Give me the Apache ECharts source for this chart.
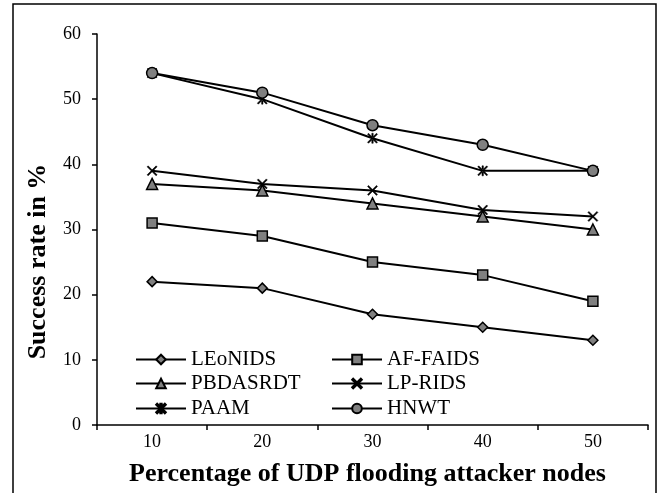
<!DOCTYPE html>
<html>
<head>
<meta charset="utf-8">
<script src="https://cdn.jsdelivr.net/npm/echarts@6/dist/echarts.min.js"></script>
<style>
  html, body { margin: 0; padding: 0; background: #fff; }
  #chart { width: 660px; height: 493px; }
</style>
</head>
<body>
<div id="chart"></div>
<script>
(function () {
  "use strict";

  // Data
  const categories = ['10', '20', '30', '40', '50'];
  const leonids = [22, 21, 17, 15, 13];
  const afFaids = [31, 29, 25, 23, 19];
  const pbdasrdt = [37, 36, 34, 32, 30];
  const lpRids = [39, 37, 36, 33, 32];
  const paam = [54, 50, 44, 39, 39];
  const hnwt = [54, 51, 46, 43, 39];

  const FONT = '"Liberation Serif", "Times New Roman", serif';
  const GRAY = '#808080';

  const crossPath = 'path://M1,0 L5,4 L9,0 L10,1 L6,5 L10,9 L9,10 L5,6 L1,10 L0,9 L4,5 L0,1 Z';
  const starPath = 'path://M1,0 L5,4 L9,0 L10,1 L6,5 L10,9 L9,10 L5,6 L1,10 L0,9 L4,5 L0,1 Z M4.3,0 L4.3,10 L5.7,10 L5.7,0 Z';

  function lineSeries(name, data, symbol, size, filled) {
    return {
      name: name,
      type: 'line',
      data: data,
      symbol: symbol,
      symbolSize: size,
      showAllSymbol: true,
      lineStyle: { color: '#000', width: 2 },
      itemStyle: filled
        ? { color: GRAY, borderColor: '#000', borderWidth: 1.5 }
        : { color: '#000', borderColor: '#000', borderWidth: 0.5 },
      emphasis: { disabled: true },
      z: 3
    };
  }

  function legendAt(name, left, top) {
    return {
      data: [name],
      left: left,
      top: top,
      itemWidth: 50,
      itemHeight: 12,
      padding: 0,
      selectedMode: false,
      textStyle: { fontFamily: FONT, fontSize: 21, color: '#000' }
    };
  }

  const chart = echarts.init(document.getElementById('chart'));
  chart.setOption({
    animation: false,
    backgroundColor: '#fff',
    grid: { left: 97, right: 12, top: 34, bottom: 68 },
    legend: [
      legendAt('LEoNIDS', 135, 349),
      legendAt('AF-FAIDS', 331, 349),
      legendAt('PBDASRDT', 135, 373),
      legendAt('LP-RIDS', 331, 373),
      legendAt('PAAM', 135, 398),
      legendAt('HNWT', 331, 398)
    ],
    xAxis: {
      type: 'category',
      data: categories,
      boundaryGap: true,
      name: 'Percentage of UDP flooding attacker nodes',
      nameLocation: 'middle',
      nameGap: 36,
      nameTextStyle: { fontFamily: FONT, fontSize: 26, fontWeight: 'bold', color: '#000', padding: [0, 10, 0, 0] },
      axisLine: { lineStyle: { color: '#000', width: 1.5 } },
      axisTick: { show: true, inside: false, length: 5, lineStyle: { color: '#000', width: 1.5 } },
      axisLabel: { fontFamily: FONT, fontSize: 18, color: '#000', margin: 8 },
      splitLine: { show: false }
    },
    yAxis: {
      type: 'value',
      min: 0,
      max: 60,
      interval: 10,
      name: 'Success rate in %',
      nameLocation: 'middle',
      nameGap: 46,
      nameTextStyle: { fontFamily: FONT, fontSize: 26, fontWeight: 'bold', color: '#000', padding: [0, 64, 0, 0] },
      axisLine: { show: true, lineStyle: { color: '#000', width: 1.5 } },
      axisTick: { show: true, inside: false, length: 5, lineStyle: { color: '#000', width: 1.5 } },
      axisLabel: { fontFamily: FONT, fontSize: 18, color: '#000', margin: 16 },
      splitLine: { show: false }
    },
    series: [
      lineSeries('LEoNIDS', leonids, 'diamond', 10, true),
      lineSeries('AF-FAIDS', afFaids, 'rect', 10, true),
      lineSeries('PBDASRDT', pbdasrdt, 'triangle', 11, true),
      lineSeries('LP-RIDS', lpRids, crossPath, 10, false),
      lineSeries('PAAM', paam, starPath, 10, false),
      lineSeries('HNWT', hnwt, 'circle', 11, true)
    ],
    graphic: [{
      type: 'rect',
      shape: { x: 13, y: 4, width: 643, height: 510 },
      style: { fill: 'none', stroke: '#000', lineWidth: 1.5 },
      silent: true
    }]
  });
})();
</script>
</body>
</html>
